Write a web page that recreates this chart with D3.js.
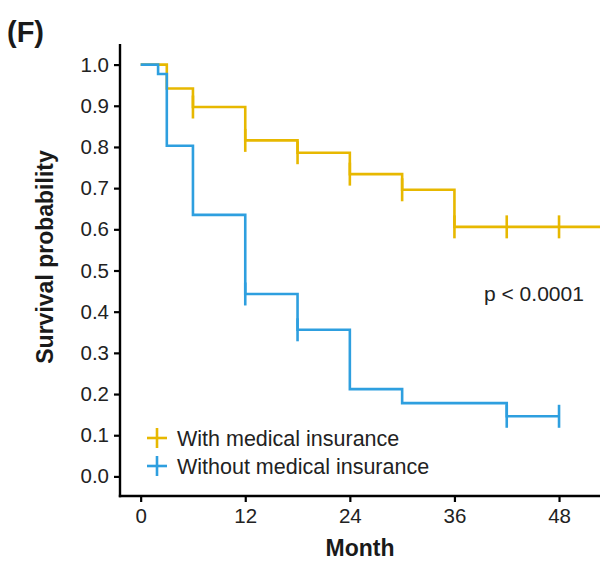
<!DOCTYPE html>
<html>
<head>
<meta charset="utf-8">
<script src="https://cdn.jsdelivr.net/npm/d3@7"></script>
<style>
  html, body { margin: 0; padding: 0; background: #fff; }
  svg { display: block; font-family: "Liberation Sans", Arial, Helvetica, sans-serif; }
</style>
</head>
<body>
<svg id="chart" width="605" height="565"></svg>
<script>
// ---- Data ----
const groups = ["With medical insurance", "Without medical insurance"];
const colors = ["#E7B800", "#2E9FDF"];

const timesWith = [0, 3, 6, 12, 18, 24, 30, 36, 53];
const survWith  = [1.0, 0.942, 0.897, 0.816, 0.786, 0.734, 0.696, 0.606, 0.606];
const censorWith = [6, 12, 18, 24, 30, 36, 42, 48];

const timesWithout = [0, 2, 3, 6, 12, 18, 24, 30, 42, 48];
const survWithout  = [1.0, 0.977, 0.803, 0.635, 0.443, 0.356, 0.212, 0.178, 0.146, 0.146];
const censorWithout = [12, 18, 42, 48];

const xTicks = [0, 12, 24, 36, 48];
const yTicks = [0, 0.1, 0.2, 0.3, 0.4, 0.5, 0.6, 0.7, 0.8, 0.9, 1.0];
const pText = "p < 0.0001";
const panelLabel = "(F)";
const xTitle = "Month";
const yTitle = "Survival probability";

// ---- Layout ----
const svg = d3.select("#chart");
const pLeft = 120, pRight = 600, pTop = 44, pBottom = 496;

const x = d3.scaleLinear().domain([-2.37, 52.7]).range([pLeft, pRight]);
const y = d3.scaleLinear().domain([-0.05, 1.05]).range([497, pTop]);

const series = [
  {times: timesWith, surv: survWith, censor: censorWith, color: colors[0]},
  {times: timesWithout, surv: survWithout, censor: censorWithout, color: colors[1]}
];

svg.append("defs").append("clipPath").attr("id", "clip")
  .append("rect").attr("x", pLeft).attr("y", pTop - 20).attr("width", pRight - pLeft).attr("height", pBottom - pTop + 20);

const plot = svg.append("g").attr("clip-path", "url(#clip)");

const line = d3.line().x(d => x(d[0])).y(d => y(d[1])).curve(d3.curveStepAfter);

function levelAt(s, t) {
  let v = s.surv[0];
  for (let i = 0; i < s.times.length; i++) if (s.times[i] <= t) v = s.surv[i];
  return v;
}

series.forEach(s => {
  const pts = s.times.map((t, i) => [t, s.surv[i]]);
  plot.append("path").datum(pts)
    .attr("d", line)
    .attr("fill", "none")
    .attr("stroke", s.color)
    .attr("stroke-width", 2.6);
  plot.selectAll(null).data(s.censor).enter().append("line")
    .attr("x1", d => x(d)).attr("x2", d => x(d))
    .attr("y1", d => y(levelAt(s, d)) - 11.5)
    .attr("y2", d => y(levelAt(s, d)) + 11.5)
    .attr("stroke", s.color)
    .attr("stroke-width", 2.6);
});

// ---- Axes ----
const yAxis = d3.axisLeft(y).tickValues(yTicks).tickFormat(d3.format(".1f")).tickSize(6).tickSizeOuter(0).tickPadding(5);
const gy = svg.append("g").attr("transform", `translate(${pLeft},0)`).call(yAxis);
gy.select(".domain").remove();
gy.selectAll(".tick line").attr("stroke", "#000").attr("stroke-width", 2.2);
gy.selectAll(".tick text").attr("font-size", 20.5).attr("fill", "#222")
  .attr("font-family", "Liberation Sans, Arial, sans-serif");

const xAxis = d3.axisBottom(x).tickValues(xTicks).tickSize(6).tickSizeOuter(0).tickPadding(6);
const gx = svg.append("g").attr("transform", `translate(0,${pBottom})`).call(xAxis);
gx.select(".domain").remove();
gx.selectAll(".tick line").attr("stroke", "#000").attr("stroke-width", 2.2);
gx.selectAll(".tick text").attr("font-size", 20.5).attr("fill", "#222")
  .attr("font-family", "Liberation Sans, Arial, sans-serif");

// axis lines
svg.append("line").attr("x1", pLeft).attr("x2", pLeft).attr("y1", pTop).attr("y2", pBottom + 1.2)
  .attr("stroke", "#000").attr("stroke-width", 2.4);
svg.append("line").attr("x1", pLeft - 1.2).attr("x2", pRight).attr("y1", pBottom).attr("y2", pBottom)
  .attr("stroke", "#000").attr("stroke-width", 2.4);

// ---- Titles ----
svg.append("text").attr("x", (pLeft + pRight) / 2).attr("y", 556)
  .attr("text-anchor", "middle").attr("font-size", 23).attr("font-weight", "bold").attr("fill", "#1a1a1a")
  .text(xTitle);
svg.append("text").attr("transform", `translate(53, 257) rotate(-90)`)
  .attr("text-anchor", "middle").attr("font-size", 23).attr("font-weight", "bold").attr("fill", "#1a1a1a")
  .text(yTitle);
svg.append("text").attr("x", 7).attr("y", 42)
  .attr("font-size", 29).attr("font-weight", "bold").attr("fill", "#1a1a1a")
  .text(panelLabel);

// p-value
svg.append("text").attr("x", 484).attr("y", 301)
  .attr("font-size", 21).attr("fill", "#222").text(pText);

// ---- Legend ----
const legY = [438, 466];
groups.forEach((g, i) => {
  const gg = svg.append("g");
  gg.append("line").attr("x1", 147).attr("x2", 167).attr("y1", legY[i]).attr("y2", legY[i])
    .attr("stroke", colors[i]).attr("stroke-width", 2.6);
  gg.append("line").attr("x1", 157).attr("x2", 157).attr("y1", legY[i] - 10).attr("y2", legY[i] + 10)
    .attr("stroke", colors[i]).attr("stroke-width", 2.6);
  gg.append("text").attr("x", 177).attr("y", legY[i] + 7.5)
    .attr("font-size", 21.5).attr("fill", "#222").text(g);
});
</script>
</body>
</html>
